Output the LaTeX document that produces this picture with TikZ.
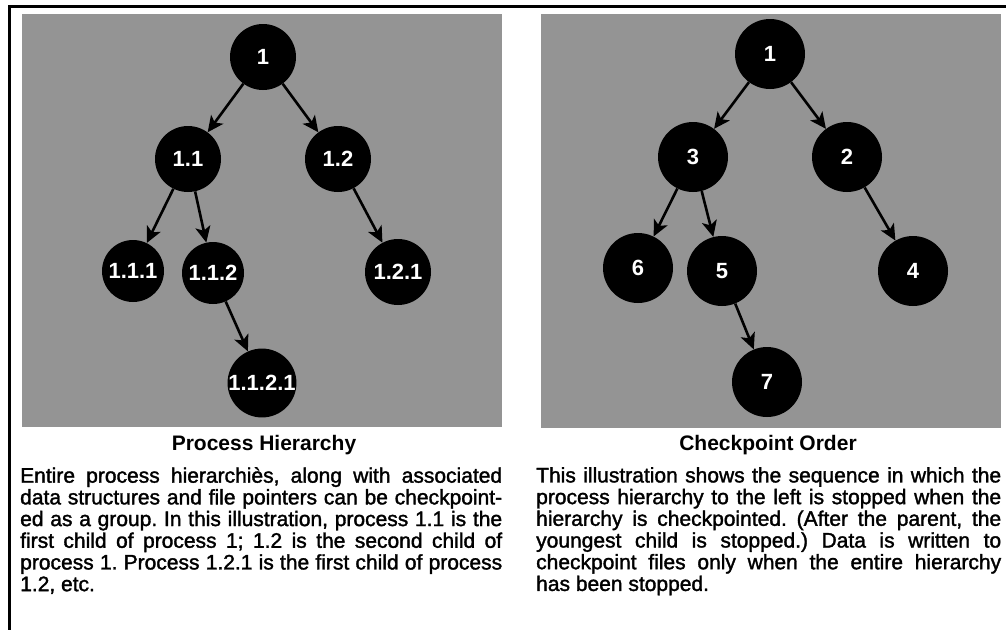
\documentclass[tikz,border=0pt]{standalone}
\usepackage{fontspec}
\setmainfont{Liberation Sans}
\newfontfamily\heavyfont[FakeBold=1.6]{Liberation Sans}
\usetikzlibrary{arrows.meta}
\begin{document}
\begin{tikzpicture}[x=1pt,y=-1pt,
  proc/.style={circle,fill=black,text=white,inner sep=0pt,minimum size=66pt,font=\fontsize{22}{22}\selectfont\bfseries},
  small/.style={minimum size=62pt},
  big/.style={minimum size=70pt},
  link/.style={line width=2.6pt,-{Stealth[length=16pt,width=15pt,inset=4pt]}},
  panel/.style={fill=black!42,draw=none},
  caption/.style={font=\fontsize{21}{21}\selectfont\bfseries,anchor=base,inner sep=0pt},
  body/.style={anchor=north west,inner sep=0pt,align=justify,font=\heavyfont\fontsize{21}{21.7}\selectfont\frenchspacing}]
\useasboundingbox (0,0) rectangle (1006,630);
% frame
\draw[line width=3pt] (8,6.5) -- (1006,6.5);
\draw[line width=3pt] (9.5,5) -- (9.5,630);
% panels
\fill[panel] (22,14) rectangle (502,427);
\fill[panel] (541,14) rectangle (1001,428);
% left tree
\node[proc] (n1) at (263,57) {1};
\node[proc] (n11) at (188,159) {1.1};
\node[proc] (n12) at (338,159) {1.2};
\node[proc,small] (n111) at (133,271) {1.1.1};
\node[proc,small] (n112) at (213,273) {1.1.2};
\node[proc] (n121) at (398,272) {1.2.1};
\node[proc] (n1121) at (262,383) {1.1.2.1};
\draw[link] (n1) -- (n11);
\draw[link] (n1) -- (n12);
\draw[link] (n11) -- (n111);
\draw[link] (n11) -- (n112);
\draw[link] (n12) -- (n121);
\draw[link] (n112) -- (n1121);
% right tree
\node[proc,big] (r1) at (770,54) {1};
\node[proc,big] (r3) at (693,157) {3};
\node[proc,big] (r2) at (847,157) {2};
\node[proc,big] (r6) at (638,268) {6};
\node[proc,big] (r5) at (722,271) {5};
\node[proc,big] (r4) at (913,271) {4};
\node[proc,big] (r7) at (767,382) {7};
\draw[link] (r1) -- (r3);
\draw[link] (r1) -- (r2);
\draw[link] (r3) -- (r6);
\draw[link] (r3) -- (r5);
\draw[link] (r2) -- (r4);
\draw[link] (r5) -- (r7);
% captions
\node[caption] (capL) at (264,450) {Process Hierarchy};
\node[caption] (capR) at (768,450) {Checkpoint Order};
% body text
\node[body,text width=482pt] (txtL) at (20,467) {\tolerance=10000\hyphenpenalty=10000
Entire process hierarchiès, along with associated\linebreak
data structures and file pointers can be checkpoint-\linebreak
ed as a group. In this illustration, process 1.1 is the\linebreak
first child of process 1; 1.2 is the second child of\linebreak
process 1. Process 1.2.1 is the first child of process\linebreak
1.2, etc.};
\node[body,text width=465pt] (txtR) at (536,467) {\tolerance=10000\hyphenpenalty=10000
This illustration shows the sequence in which the\linebreak
process hierarchy to the left is stopped when the\linebreak
hierarchy is checkpointed. (After the parent, the\linebreak
youngest child is stopped.) Data is written to\linebreak
checkpoint files only when the entire hierarchy\linebreak
has been stopped.};
\end{tikzpicture}
\end{document}
